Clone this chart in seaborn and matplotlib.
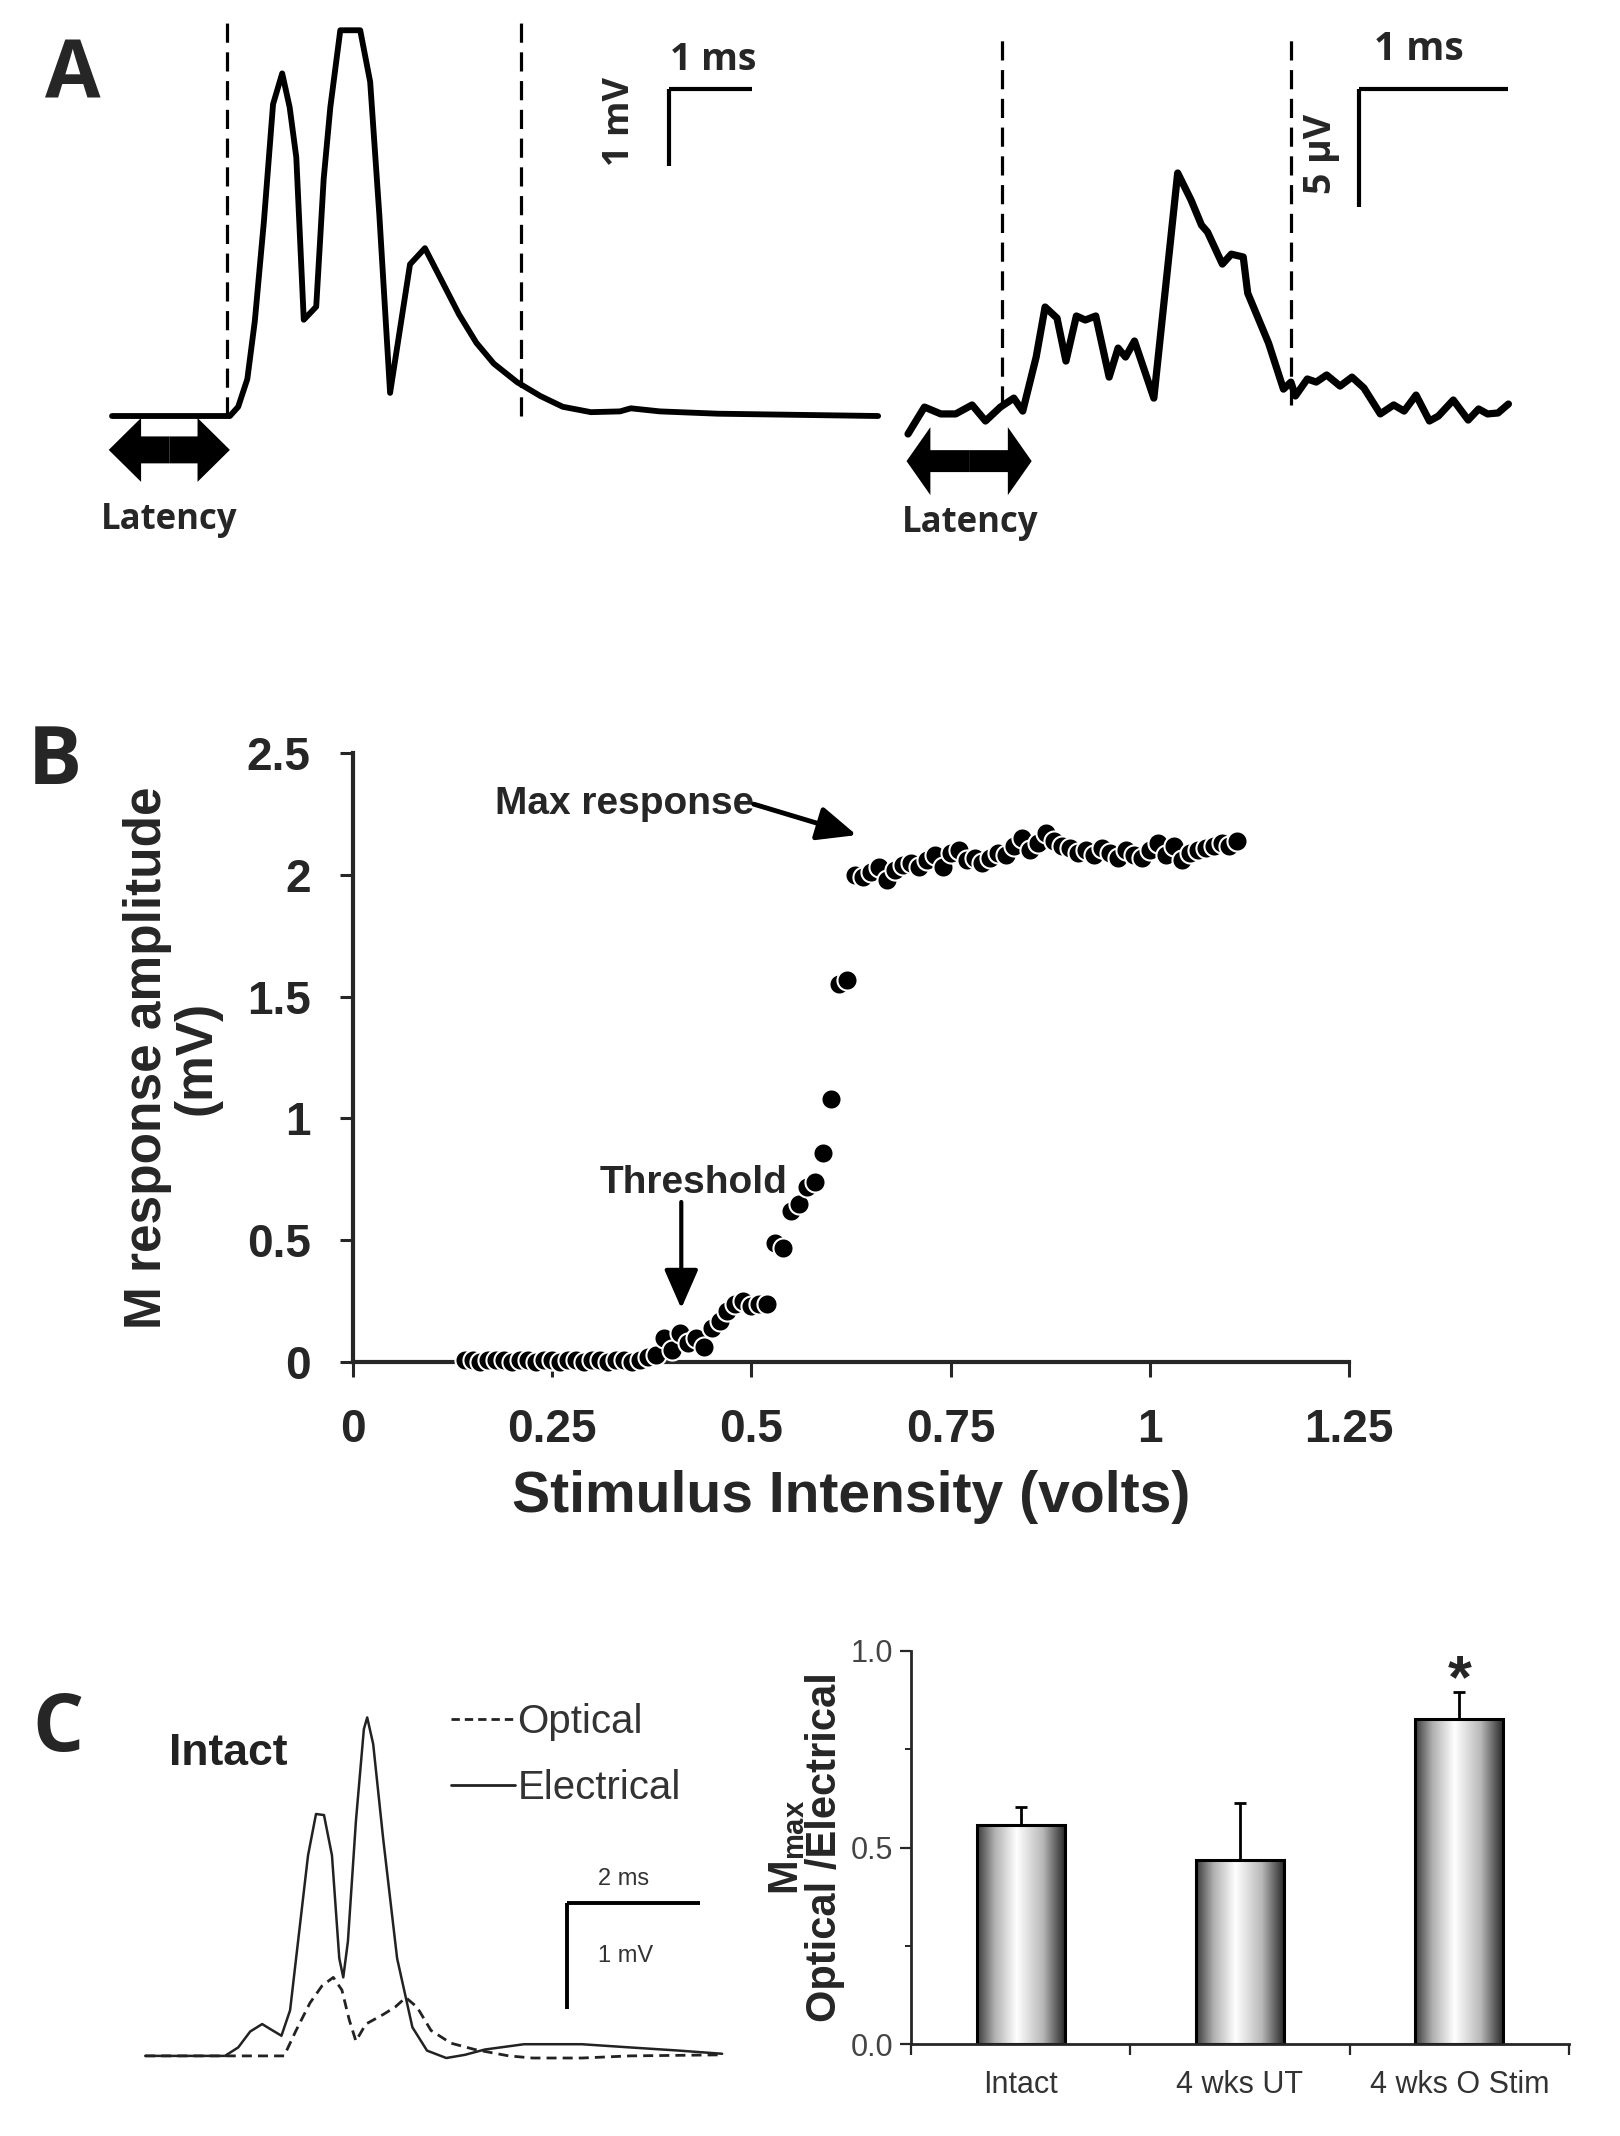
import numpy as np
import pandas as pd
import matplotlib
matplotlib.use('Agg')
import matplotlib.pyplot as plt
import seaborn as sns
from matplotlib import font_manager
from matplotlib.colors import LinearSegmentedColormap
from matplotlib.lines import Line2D

# ---------------- data ----------------
# Panel A, left: M wave after electrical stimulation (time ms, amplitude mV)
a_left_t = [0, 1.42, 1.52, 1.63, 1.72, 1.83, 1.94, 2.05, 2.14, 2.22, 2.31, 2.46, 2.55,
            2.63, 2.75, 2.99, 3.11, 3.22, 3.35, 3.59, 3.77, 3.98, 4.18, 4.39, 4.60,
            4.88, 5.16, 5.43, 5.77, 6.12, 6.25, 6.60, 7.30, 9.23]
a_left_v = [0, 0, 0.12, 0.48, 1.23, 2.53, 4.05, 4.45, 4.01, 3.36, 1.25, 1.42, 3.08,
            4.01, 5.01, 5.01, 4.34, 2.62, 0.30, 1.97, 2.18, 1.74, 1.32, 0.95, 0.68,
            0.44, 0.26, 0.12, 0.05, 0.06, 0.10, 0.06, 0.03, 0.0]
a_left_marks = [1.39, 4.93]

# Panel A, right: M wave after optical stimulation (time ms, amplitude uV)
a_right_t = [0.00, 0.11, 0.22, 0.32, 0.43, 0.52, 0.62, 0.71, 0.77, 0.86, 0.92, 1.00,
             1.06, 1.13, 1.19, 1.26, 1.35, 1.41, 1.46, 1.52, 1.65, 1.81, 1.90, 1.97,
             2.01, 2.11, 2.17, 2.25, 2.28, 2.42, 2.52, 2.57, 2.60, 2.68, 2.74, 2.81,
             2.90, 2.98, 3.06, 3.17, 3.26, 3.33, 3.41, 3.50, 3.56, 3.66, 3.76, 3.83,
             3.89, 3.96, 4.03]
a_right_v = [-0.93, 0.21, -0.08, -0.08, 0.30, -0.38, 0.21, 0.59, 0.04, 2.33, 4.45, 3.98,
             2.16, 4.07, 3.90, 4.07, 1.48, 2.71, 2.33, 3.01, 0.59, 10.13, 8.98, 7.92,
             7.63, 6.27, 6.69, 6.57, 5.04, 2.92, 0.97, 1.27, 0.68, 1.40, 1.27, 1.57,
             1.10, 1.48, 1.02, -0.08, 0.30, 0.04, 0.72, -0.38, -0.17, 0.51, -0.34, 0.13,
             -0.08, -0.04, 0.34]
a_right_marks = [0.63, 2.57]

# Panel B: recruitment curve
stim_volts = [0.14, 0.15, 0.16, 0.17, 0.18, 0.19, 0.20, 0.21, 0.22, 0.23, 0.24, 0.25,
              0.26, 0.27, 0.28, 0.29, 0.30, 0.31, 0.32, 0.33, 0.34, 0.35, 0.36, 0.37,
              0.38, 0.39, 0.40, 0.41, 0.42, 0.43, 0.44, 0.45, 0.46, 0.47, 0.48, 0.49,
              0.50, 0.51, 0.52, 0.53, 0.54, 0.55, 0.56, 0.57, 0.58, 0.59, 0.60, 0.61,
              0.62, 0.63, 0.64, 0.65, 0.66, 0.67, 0.68, 0.69, 0.70, 0.71, 0.72, 0.73,
              0.74, 0.75, 0.76, 0.77, 0.78, 0.79, 0.80, 0.81, 0.82, 0.83, 0.84, 0.85,
              0.86, 0.87, 0.88, 0.89, 0.90, 0.91, 0.92, 0.93, 0.94, 0.95, 0.96, 0.97,
              0.98, 0.99, 1.00, 1.01, 1.02, 1.03, 1.04, 1.05, 1.06, 1.07, 1.08, 1.09,
              1.10, 1.11]
m_amplitude = [0.01, 0.01, 0.00, 0.01, 0.01, 0.01, 0.00, 0.01, 0.01, 0.00, 0.01, 0.01,
               0.00, 0.01, 0.01, 0.00, 0.01, 0.01, 0.00, 0.01, 0.01, 0.00, 0.01, 0.02,
               0.03, 0.10, 0.05, 0.12, 0.08, 0.10, 0.06, 0.14, 0.17, 0.21, 0.24, 0.25,
               0.23, 0.24, 0.24, 0.49, 0.47, 0.62, 0.65, 0.72, 0.74, 0.86, 1.08, 1.55,
               1.57, 2.00, 1.99, 2.01, 2.03, 1.98, 2.02, 2.04, 2.05, 2.03, 2.06, 2.08,
               2.03, 2.09, 2.10, 2.06, 2.07, 2.05, 2.07, 2.09, 2.08, 2.12, 2.15, 2.10,
               2.13, 2.17, 2.14, 2.12, 2.11, 2.09, 2.10, 2.08, 2.11, 2.09, 2.07, 2.10,
               2.08, 2.07, 2.10, 2.13, 2.08, 2.12, 2.06, 2.09, 2.10, 2.11, 2.12, 2.13,
               2.12, 2.14]
b_xticks = [0, 0.25, 0.5, 0.75, 1, 1.25]
b_xticklabels = ['0', '0.25', '0.5', '0.75', '1', '1.25']
b_yticks = [0, 0.5, 1, 1.5, 2, 2.5]
b_yticklabels = ['0', '0.5', '1', '1.5', '2', '2.5']

# Panel C, left: intact traces (ms, mV)
elec_t = [0, 1.20, 1.40, 1.58, 1.76, 1.89, 2.05, 2.18, 2.30, 2.45, 2.57, 2.69, 2.81,
          2.92, 2.98, 3.05, 3.17, 3.29, 3.34, 3.43, 3.58, 3.79, 4.02, 4.24, 4.53,
          4.81, 5.11, 5.70, 6.57, 7.29, 8.03, 8.68]
elec_v = [0, 0, 0.08, 0.23, 0.30, 0.25, 0.19, 0.43, 1.08, 1.89, 2.28, 2.27, 1.89,
          0.92, 0.74, 1.08, 2.21, 3.08, 3.19, 2.94, 2.05, 0.92, 0.27, 0.05, -0.02,
          0.01, 0.06, 0.11, 0.11, 0.08, 0.05, 0.02]
opt_t = [0, 2.09, 2.27, 2.48, 2.66, 2.83, 2.96, 3.07, 3.17, 3.32, 3.58, 3.76, 3.92,
         4.09, 4.30, 4.60, 4.96, 5.47, 5.83, 6.57, 7.29, 8.68]
opt_v = [0, 0, 0.24, 0.50, 0.66, 0.74, 0.62, 0.34, 0.14, 0.30, 0.39, 0.46, 0.55,
         0.46, 0.24, 0.12, 0.06, 0.0, -0.02, -0.02, 0.0, 0.01]

# Panel C, right: Mmax ratio
groups = ['Intact', '4 wks UT', '4 wks O Stim']
ratio_mean = [0.557, 0.467, 0.827]
ratio_sem = [0.046, 0.146, 0.068]

# ---------------- style ----------------
sns.set_theme(style='ticks')
plt.rcParams['font.family'] = ['Liberation Sans', 'DejaVu Sans']
plt.rcParams['mathtext.fontset'] = 'custom'
plt.rcParams['mathtext.rm'] = 'Liberation Sans'
plt.rcParams['mathtext.bf'] = 'Liberation Sans:bold'

installed = {f.name for f in font_manager.fontManager.ttflist}
NARROW = 'Liberation Sans Narrow' if 'Liberation Sans Narrow' in installed else 'Liberation Sans'
ANNOT_SIZE = 34 if NARROW == 'Liberation Sans Narrow' else 28
CALIB = ['Open Sans', 'DejaVu Sans']

W, H = 1620, 2136
fig = plt.figure(figsize=(W / 100, H / 100), dpi=100)


def px_axes(x0, y0, x1, y1):
    return fig.add_axes([x0 / W, 1 - y1 / H, (x1 - x0) / W, (y1 - y0) / H])


def double_arrow(ax, x0, x1, y, body, head_w, head_l):
    mid = (x0 + x1) / 2
    for end in (x0, x1):
        ax.arrow(mid, y, end - mid, 0, width=body, head_width=head_w, head_length=head_l,
                 length_includes_head=True, fc='black', ec='black', lw=0)


def scale_bar(ax, x, y, dx, dy, lw=3):
    ax.plot([x, x + dx], [y, y], color='black', lw=lw, solid_capstyle='butt')
    ax.plot([x, x], [y, y - dy], color='black', lw=lw, solid_capstyle='butt')


# ---------------- panel A ----------------
fig.text(73 / W, 1 - 77 / H, 'A', family=CALIB, fontsize=58, fontweight='bold',
         ha='center', va='center')

axL = px_axes(100, 0, 890, 560)
sns.lineplot(x=a_left_t, y=a_left_v, ax=axL, color='black', lw=4.2,
             estimator=None, sort=False)
axL.vlines(a_left_marks, 0, 5.10, colors='black', linestyles=(0, (6, 3)), lw=2.3)
scale_bar(axL, 6.71, 4.25, 1.0, 1.0)
axL.text(7.24, 4.38, '1 ms', family=CALIB, fontsize=27, fontweight='bold',
         ha='center', va='bottom')
axL.text(6.12, 3.83, '1 mV', family=CALIB, fontsize=26, fontweight='bold',
         rotation=90, ha='center', va='center')
double_arrow(axL, -0.04, 1.42, -0.44, 0.35, 0.83, 0.39)
axL.text(0.69, -1.35, 'Latency', family=CALIB, fontsize=25, fontweight='bold',
         ha='center', va='center')
axL.set_xlim(-0.145, 9.373)
axL.set_ylim(-1.870, 5.403)
axL.axis('off')

axR = px_axes(890, 0, 1540, 560)
sns.lineplot(x=a_right_t, y=a_right_v, ax=axR, color='black', lw=5.2,
             estimator=None, sort=False)
axR.vlines(a_right_marks, 0.3, 15.85, colors='black', linestyles=(0, (6, 3)), lw=2.3)
scale_bar(axR, 3.03, 13.69, 1.0, 5.0)
axR.text(3.43, 14.55, '1 ms', family=CALIB, fontsize=28, fontweight='bold',
         ha='center', va='bottom')
axR.text(2.77, 10.93, '5 µV', family=CALIB, fontsize=27, fontweight='bold',
         rotation=90, ha='center', va='center')
double_arrow(axR, -0.01, 0.83, -2.08, 0.93, 2.88, 0.16)
axR.text(0.42, -4.70, 'Latency', family=CALIB, fontsize=25, fontweight='bold',
         ha='center', va='center')
axR.set_xlim(-0.121, 4.242)
axR.set_ylim(-6.27, 17.46)
axR.axis('off')

# ---------------- panel B ----------------
fig.text(55 / W, 1 - 763 / H, 'B', family=CALIB, fontsize=58, fontweight='bold',
         ha='center', va='center')

axB = px_axes(353, 753, 1349, 1362)
sns.scatterplot(x=stim_volts, y=m_amplitude, ax=axB, color='black', edgecolor='white',
                linewidth=1.5, s=210, zorder=3, clip_on=False)
axB.set_xlim(0, 1.25)
axB.set_ylim(0, 2.5)
axB.set_xticks(b_xticks)
axB.set_xticklabels(b_xticklabels)
axB.set_yticks(b_yticks)
axB.set_yticklabels(b_yticklabels)
for lab in axB.get_xticklabels() + axB.get_yticklabels():
    lab.set_fontweight('bold')
axB.tick_params(axis='x', direction='out', length=11, width=2.2, pad=22, labelsize=33)
axB.tick_params(axis='y', direction='out', length=9.5, width=2.2, pad=21, labelsize=33)
sns.despine(ax=axB)
for sp in ('left', 'bottom'):
    axB.spines[sp].set_linewidth(3)
axB.set_xlabel('Stimulus Intensity (volts)', fontsize=41, fontweight='bold')
axB.set_ylabel('M response amplitude\n(mV)', fontsize=37, fontweight='bold',
               linespacing=1.0)
axB.xaxis.set_label_coords(0.5, -0.177)
axB.yaxis.set_label_coords(-0.1325, 0.5)

axB.text(0.503, 2.29, 'Max response', family=[NARROW, 'Liberation Sans'],
         fontsize=ANNOT_SIZE, fontweight='bold', ha='right', va='center')
axB.annotate('', xy=(0.632, 2.163), xytext=(0.503, 2.29),
             arrowprops=dict(arrowstyle='-|>,head_length=0.8,head_width=0.35',
                             lw=3.5, color='black', mutation_scale=30,
                             shrinkA=0, shrinkB=0))
axB.text(0.427, 0.735, 'Threshold', family=[NARROW, 'Liberation Sans'],
         fontsize=ANNOT_SIZE, fontweight='bold', ha='center', va='center')
axB.annotate('', xy=(0.412, 0.22), xytext=(0.412, 0.657),
             arrowprops=dict(arrowstyle='-|>,head_length=0.8,head_width=0.35',
                             lw=3, color='black', mutation_scale=30,
                             shrinkA=0, shrinkB=0))

# ---------------- panel C, traces ----------------
fig.text(58 / W, 1 - 1730 / H, 'C', family=CALIB, fontsize=58, fontweight='bold',
         ha='center', va='center')

axC = px_axes(100, 1640, 760, 2136)
sns.lineplot(x=opt_t, y=opt_v, ax=axC, color='#222222', lw=2,
             linestyle=(0, (3.6, 2.2)), estimator=None, sort=False)
sns.lineplot(x=elec_t, y=elec_v, ax=axC, color='#222222', lw=1.8,
             estimator=None, sort=False)
scale_bar(axC, 6.35, 1.44, 2.0, 1.0, lw=2.8)
axC.text(7.19, 1.67, '2 ms', fontsize=17, color='#333333', ha='center', va='center')
axC.text(7.22, 0.94, '1 mV', fontsize=17, color='#333333', ha='center', va='center')
axC.text(1.25, 2.85, 'Intact', fontsize=32, fontweight='bold', color='#222222',
         ha='center', va='center')
handles = [Line2D([], [], color='#222222', lw=2, linestyle=(0, (3.0, 1.8))),
           Line2D([], [], color='#222222', lw=2)]
axC.legend(handles, ['Optical', 'Electrical'], loc='upper left',
           bbox_to_anchor=(451 / W, 1 - 1703 / H), bbox_transform=fig.transFigure,
           frameon=False, fontsize=29, handlelength=1.6, handletextpad=0.05,
           labelspacing=0.7, borderpad=0, borderaxespad=0, labelcolor='#333333')
axC.set_xlim(-0.68, 9.25)
axC.set_ylim(-0.755, 3.92)
axC.axis('off')

# ---------------- panel C, bars ----------------
axD = px_axes(911, 1651, 1569, 2044)
sns.barplot(x=groups, y=ratio_mean, order=groups, ax=axD, width=0.4, color='white',
            edgecolor='black', linewidth=2.2, errorbar=None)
cyl = LinearSegmentedColormap.from_list(
    'cyl', [(0, '#3a3a3a'), (0.2, '#b0b0b0'), (0.45, '#ffffff'),
            (0.75, '#b8b8b8'), (1, '#2a2a2a')])
grad = np.linspace(0, 1, 256).reshape(1, -1)
for patch in axD.patches:
    x0, w, h = patch.get_x(), patch.get_width(), patch.get_height()
    im = axD.imshow(grad, cmap=cyl, extent=[x0, x0 + w, 0, h], aspect='auto',
                    zorder=patch.get_zorder() - 0.1, interpolation='bilinear')
    im.set_clip_path(patch)
    patch.set_facecolor('none')
axD.errorbar(x=range(len(groups)), y=ratio_mean,
             yerr=[np.zeros(len(groups)), ratio_sem], fmt='none', ecolor='black',
             elinewidth=2, capsize=4, capthick=2, zorder=1)
axD.text(2, 0.85, '*', fontsize=44, fontweight='bold', ha='center', va='bottom')
axD.set_xlim(-0.5, 2.5)
axD.set_ylim(0, 1)
axD.set_xticks([-0.5, 0.5, 1.5, 2.5])
axD.set_xticklabels([])
axD.set_xticks(range(len(groups)), minor=True)
axD.set_xticklabels(groups, minor=True)
axD.set_yticks([0, 0.5, 1.0])
axD.set_yticklabels(['0.0', '0.5', '1.0'])
axD.set_yticks([0.25, 0.75], minor=True)
axD.tick_params(axis='x', which='major', direction='out', length=8, width=1.6)
axD.tick_params(axis='x', which='minor', length=0, pad=19, labelsize=22,
                labelcolor='#333333')
axD.tick_params(axis='y', which='major', direction='out', length=8, width=1.6,
                pad=5, labelsize=22, labelcolor='#444444')
axD.tick_params(axis='y', which='minor', direction='out', length=4, width=1.4)
sns.despine(ax=axD)
for sp in ('left', 'bottom'):
    axD.spines[sp].set_linewidth(2)
axD.set_xlabel('')
axD.set_ylabel(r'$\mathbf{M_{max}}$' + '\nOptical /Electrical', fontsize=30,
               fontweight='bold', linespacing=0.95)
axD.yaxis.set_label_coords(-0.10, 0.5)

fig.savefig('out.png', dpi=100)
